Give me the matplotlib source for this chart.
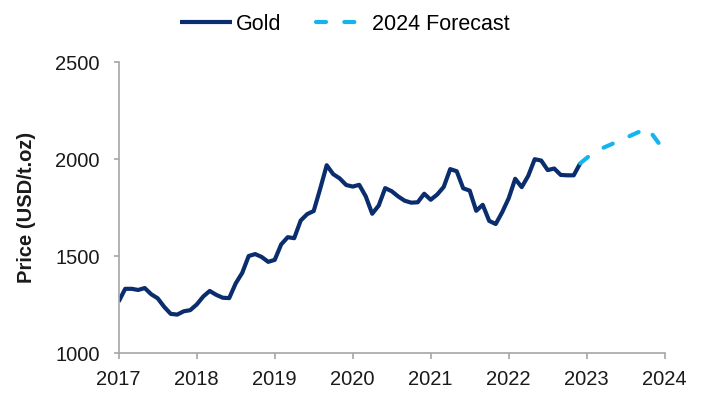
import numpy as np
from matplotlib import pyplot as plt

# Monthly average gold price (USD/t.oz)
gold_start = 2017.0
gold_price = [1265, 1331, 1331, 1325, 1335, 1303, 1282, 1238, 1202, 1198, 1215, 1221,
              1250, 1291, 1320, 1300, 1285, 1283, 1359, 1413, 1500, 1510, 1495, 1470,
              1480, 1560, 1597, 1592, 1683, 1716, 1732, 1847, 1968, 1922, 1900, 1866,
              1858, 1867, 1808, 1718, 1760, 1850, 1834, 1807, 1785, 1775, 1777, 1821,
              1790, 1817, 1856, 1948, 1937, 1849, 1837, 1733, 1764, 1681, 1665, 1726,
              1798, 1898, 1855, 1913, 1999, 1992, 1943, 1951, 1918, 1916, 1916, 1978]

# Forecast path
forecast_x = [2022.917, 2023.1, 2023.417, 2023.78, 2024.0]
forecast_price = [1978, 2038, 2094, 2160, 2040]

year_ticks = [2017, 2018, 2019, 2020, 2021, 2022, 2023, 2024]
price_ticks = [1000, 1500, 2000, 2500]

gold_x = gold_start + np.arange(len(gold_price)) / 12

plt.rcParams['font.family'] = ['Liberation Sans', 'DejaVu Sans']

fig = plt.figure(figsize=(7.04, 3.94), dpi=100)
ax = fig.add_axes([0.1686, 0.104, 0.7756, 0.7386])

ax.plot(gold_x, gold_price, color='#0a2d6e', lw=3, solid_joinstyle='round',
        solid_capstyle='butt', label='Gold')
ax.plot(forecast_x, forecast_price, color='#14b4ee', lw=3, dashes=(2.4, 4.4),
        dash_capstyle='round', label='2024 Forecast')

ax.set_xlim(2017, 2024)
ax.set_ylim(1000, 2500)
ax.set_xticks(year_ticks)
ax.set_yticks(price_ticks)

for side in ['top', 'right']:
    ax.spines[side].set_visible(False)
for side in ['left', 'bottom']:
    ax.spines[side].set_color('#a6a6a6')
    ax.spines[side].set_linewidth(1.2)

ax.tick_params(axis='both', colors='#a6a6a6', width=1.2, labelsize=14.5,
               labelcolor='#1a1a1a')
ax.tick_params(axis='x', length=4.5, pad=8)
ax.tick_params(axis='y', length=3.5, pad=10)

ax.set_ylabel('Price (USD/t.oz)', fontsize=14.5, fontweight='bold', color='#1a1a1a',
              labelpad=14)

ax.legend(loc='center', bbox_to_anchor=(0.414, 1.13), ncol=2, frameon=False,
          fontsize=15.5, handlelength=2.4, handletextpad=0.19, columnspacing=1.6)

fig.savefig('out.png', dpi=100)
